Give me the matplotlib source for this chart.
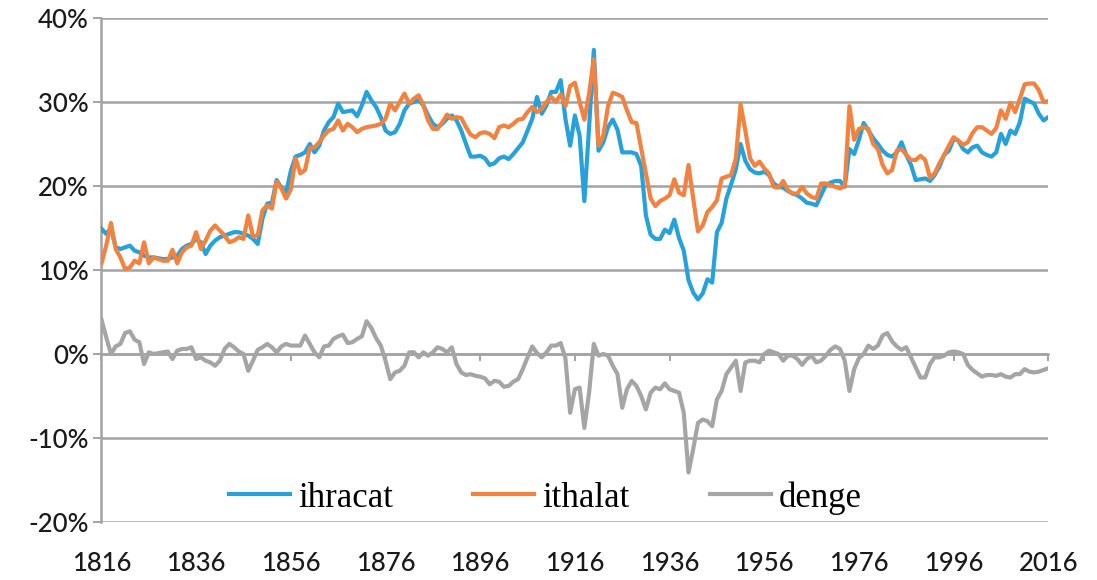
import numpy as np
import matplotlib
matplotlib.use("Agg")
import matplotlib.pyplot as plt
from matplotlib.ticker import FuncFormatter

years = np.arange(1816, 2017)

ihracat = [
    14.9, 14.3, 15.0, 12.7, 12.5, 12.7, 12.9, 12.3, 12.1, 11.7,
    11.5, 11.5, 11.4, 11.3, 11.3, 11.5, 11.7, 12.5, 12.9, 13.1,
    13.7, 13.3, 11.9, 12.9, 13.5, 13.9, 14.1, 14.3, 14.5, 14.5,
    14.3, 14.1, 13.7, 13.1, 16.1, 17.9, 18.0, 20.7, 19.8, 19.2,
    21.8, 23.5, 23.7, 24.0, 25.0, 24.0, 24.8, 26.6, 27.6, 28.2,
    29.8, 28.8, 28.9, 29.0, 28.3, 29.6, 31.2, 30.2, 29.4, 28.2,
    26.6, 26.2, 26.4, 27.4, 29.0, 29.8, 30.0, 30.2, 29.6, 28.4,
    27.4, 27.0, 27.4, 28.0, 28.4, 27.8, 26.6, 25.0, 23.5, 23.5,
    23.6, 23.3, 22.5, 22.7, 23.3, 23.5, 23.2, 23.8, 24.5, 25.2,
    26.6, 28.0, 30.6, 28.6, 29.6, 31.2, 31.2, 32.6, 28.0, 24.8,
    28.4, 26.0, 18.2, 27.0, 36.2, 24.2, 25.2, 27.0, 27.9, 26.7,
    24.0, 24.0, 24.0, 23.8, 22.4, 16.5, 14.2, 13.7, 13.7, 14.8,
    14.4, 16.0, 13.8, 12.3, 8.8, 7.3, 6.5, 7.2, 8.9, 8.5,
    14.5, 15.6, 18.5, 20.2, 22.0, 25.0, 23.0, 22.0, 21.6, 21.5,
    21.7, 21.3, 20.3, 19.9, 19.8, 19.4, 19.1, 18.9, 18.5, 18.0,
    17.9, 17.7, 18.9, 20.1, 20.4, 20.6, 20.6, 19.9, 24.4, 23.8,
    25.5, 27.5, 26.6, 25.7, 25.0, 24.2, 23.7, 23.5, 24.0, 25.2,
    23.7, 22.5, 20.7, 20.8, 20.9, 20.6, 21.3, 22.3, 23.7, 24.2,
    25.6, 25.4, 24.4, 24.0, 24.6, 24.8, 24.0, 23.7, 23.5, 24.0,
    26.2, 25.0, 26.6, 26.2, 27.6, 30.4, 30.1, 29.8, 28.6, 27.8,
    28.2,
]

ithalat = [
    10.8, 12.9, 15.6, 12.5, 11.5, 10.1, 10.3, 11.1, 10.8, 13.3,
    10.8, 11.5, 11.3, 11.1, 11.1, 12.4, 10.8, 12.1, 12.7, 12.9,
    14.5, 12.5, 13.5, 14.7, 15.3, 14.7, 14.1, 13.3, 13.5, 13.9,
    13.7, 16.5, 14.0, 14.1, 17.1, 17.7, 17.3, 20.5, 19.7, 18.5,
    19.6, 23.3, 21.5, 21.9, 24.5, 24.6, 25.2, 26.0, 26.6, 26.8,
    27.8, 26.6, 27.4, 27.0, 26.4, 26.8, 27.0, 27.1, 27.2, 27.4,
    28.0, 29.8, 29.0, 30.0, 31.0, 29.8, 30.4, 30.8, 29.6, 27.8,
    26.8, 26.8, 27.6, 28.5, 28.0, 28.2, 28.1, 27.0, 26.1, 25.8,
    26.3, 26.4, 26.2, 25.7, 27.0, 27.2, 27.0, 27.4, 27.9, 28.0,
    28.8, 29.4, 28.8, 29.2, 30.0, 30.6, 30.0, 30.9, 29.5, 31.9,
    32.3, 30.0, 27.9, 31.0, 35.1, 24.8, 26.0, 29.5, 31.1, 30.9,
    30.6, 29.0, 27.6, 27.5, 24.5, 21.5, 18.5, 17.6, 18.2, 18.5,
    18.9, 20.8, 19.2, 18.9, 22.5, 18.5, 14.6, 15.3, 16.9, 17.5,
    18.3, 20.9, 21.1, 21.3, 23.3, 29.7, 26.6, 23.3, 22.4, 22.9,
    22.1, 21.5, 19.9, 19.8, 20.6, 19.5, 19.1, 19.1, 19.9, 19.1,
    18.7, 18.5, 20.3, 20.3, 20.1, 19.9, 19.7, 20.0, 29.5, 25.5,
    26.8, 27.0, 26.8, 25.0, 24.4, 22.5, 21.5, 21.9, 24.2, 24.4,
    23.7, 23.1, 23.1, 23.6, 23.1, 21.0, 21.5, 22.7, 23.7, 24.8,
    25.8, 25.4, 24.9, 25.2, 26.3, 27.0, 27.0, 26.6, 26.2, 26.9,
    29.0, 28.0, 29.9, 28.8, 30.4, 32.1, 32.2, 32.2, 31.4, 30.0,
    30.1,
]

denge = [
    4.1, 2.0, 0.0, 0.9, 1.2, 2.5, 2.7, 1.7, 1.4, -1.2,
    0.2, 0.0, 0.1, 0.2, 0.3, -0.6, 0.4, 0.6, 0.6, 0.8,
    -0.6, -0.4, -0.8, -1.0, -1.4, -0.8, 0.6, 1.2, 0.8, 0.3,
    0.0, -2.0, -0.8, 0.5, 0.8, 1.2, 0.8, 0.2, 0.9, 1.2,
    1.0, 1.0, 1.0, 2.2, 1.2, 0.2, -0.4, 0.9, 1.0, 1.8,
    2.1, 2.3, 1.3, 1.4, 1.8, 2.1, 3.9, 3.1, 1.9, 1.0,
    -0.8, -3.0, -2.2, -2.0, -1.4, 0.2, 0.2, -0.4, 0.2, -0.2,
    0.2, 0.8, 0.6, 0.2, 0.8, -1.2, -2.2, -2.5, -2.4, -2.6,
    -2.7, -2.9, -3.6, -3.2, -3.3, -3.9, -3.8, -3.3, -3.0, -1.8,
    -0.4, 0.9, 0.1, -0.4, 0.2, 1.0, 1.0, 1.3, -0.5, -7.0,
    -4.2, -4.0, -8.8, -4.6, 1.2, -0.2, 0.0, -0.2, -1.4, -2.4,
    -6.4, -4.2, -3.2, -3.8, -5.0, -6.6, -4.6, -4.0, -4.2, -3.5,
    -4.2, -4.4, -4.6, -7.0, -14.1, -11.3, -8.2, -7.8, -8.0, -8.6,
    -5.4, -4.4, -2.4, -1.6, -0.8, -4.4, -1.0, -0.8, -0.8, -1.0,
    0.0, 0.4, 0.2, 0.0, -0.8, -0.2, -0.2, -0.6, -1.3, -0.6,
    -0.2, -1.0, -0.8, -0.2, 0.5, 0.9, 0.6, -0.8, -4.4, -1.8,
    -0.5, 0.0, 1.0, 0.6, 1.0, 2.2, 2.5, 1.5, 0.9, 0.5,
    0.8, -0.4, -1.6, -2.8, -2.8, -1.2, -0.4, -0.4, -0.2, 0.2,
    0.3, 0.2, 0.0, -1.3, -1.9, -2.3, -2.7, -2.5, -2.5, -2.6,
    -2.4, -2.7, -2.8, -2.4, -2.4, -1.8, -2.1, -2.2, -2.1, -1.9,
    -1.7,
]

x_ticks = list(range(1816, 2017, 20))
y_ticks = [-20, -10, 0, 10, 20, 30, 40]

grid_c = "#A3A3A3"
text_c = "#1A1A1A"

fig = plt.figure(figsize=(10.97, 5.80), dpi=100)
ax = fig.add_axes([0.0925, 0.10, 0.8631, 0.869])

ax.plot(years, ihracat, color="#27A1DB", lw=3.0, solid_joinstyle="round", label="ihracat", zorder=3)
ax.plot(years, ithalat, color="#F2823F", lw=3.0, solid_joinstyle="round", label="ithalat", zorder=3)
ax.plot(years, denge, color="#A5A5A5", lw=3.0, solid_joinstyle="round", label="denge", zorder=3)

ax.set_xlim(1816, 2016)
ax.set_ylim(-20, 40)
ax.set_yticks(y_ticks)
ax.yaxis.set_major_formatter(FuncFormatter(lambda v, p: f"{v:.0f}%"))
ax.grid(axis="y", color=grid_c, lw=1.8, zorder=0)
ax.set_axisbelow(True)

for s in ["top", "right"]:
    ax.spines[s].set_visible(False)
ax.spines["left"].set_color(grid_c)
ax.spines["left"].set_linewidth(1.8)
ax.spines["bottom"].set_position(("data", 0))
ax.spines["bottom"].set_color(grid_c)
ax.spines["bottom"].set_linewidth(1.8)

ax.set_xticks(x_ticks)
ax.tick_params(axis="x", length=5, width=1.4, color=grid_c, labelbottom=False)
ax.tick_params(axis="y", length=6, width=1.4, color=grid_c, pad=3,
               labelsize=18.5, labelcolor=text_c)
for lab in ax.get_yticklabels():
    lab.set_fontfamily("Lato")
    lab.set_fontweight("medium")

sec = ax.secondary_xaxis("bottom")
sec.set_xticks(x_ticks)
sec.tick_params(length=0, pad=21, labelsize=18.5, labelcolor=text_c)
sec.spines["bottom"].set_visible(False)
for lab in sec.get_xticklabels():
    lab.set_fontfamily("Lato")
    lab.set_fontweight("medium")

ax.legend(loc="center", bbox_to_anchor=(0.469, 0.048), ncol=3, frameon=False,
          prop={"family": "Liberation Serif", "size": 25},
          handlelength=1.75, handletextpad=0.25, columnspacing=2.3)

fig.savefig("out.png", dpi=100)
